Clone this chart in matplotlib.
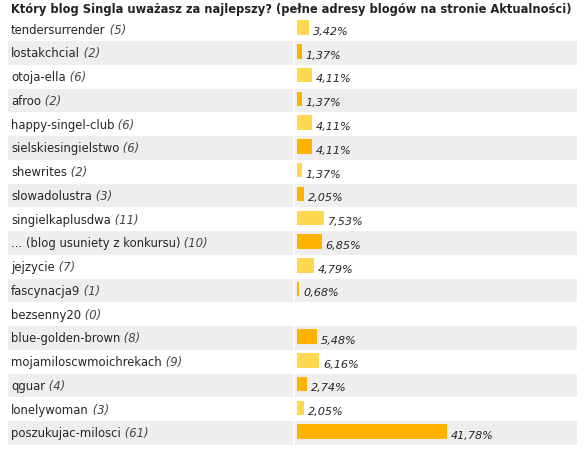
import matplotlib
matplotlib.use("Agg")
import matplotlib.pyplot as plt
from matplotlib.transforms import blended_transform_factory

title = "Który blog Singla uważasz za najlepszy? (pełne adresy blogów na stronie Aktualności)"
names = ["tendersurrender", "lostakchcial", "otoja-ella", "afroo", "happy-singel-club",
         "sielskiesingielstwo", "shewrites", "slowadolustra", "singielkaplusdwa",
         "... (blog usuniety z konkursu)", "jejzycie", "fascynacja9", "bezsenny20",
         "blue-golden-brown", "mojamiloscwmoichrekach", "qguar", "lonelywoman",
         "poszukujac-milosci"]
votes = [5, 2, 6, 2, 6, 6, 2, 3, 11, 10, 7, 1, 0, 8, 9, 4, 3, 61]
percents = [3.42, 1.37, 4.11, 1.37, 4.11, 4.11, 1.37, 2.05, 7.53, 6.85, 4.79, 0.68,
            0.0, 5.48, 6.16, 2.74, 2.05, 41.78]

W, H = 586, 449
fig = plt.figure(figsize=(W / 100, H / 100), dpi=100)
ax = fig.add_axes([0, 0, 1, 1])
ax.set_axis_off()

px_per_pct = 3.59
x0 = 297
row_h = 23.76
row0 = 29.1
ax.set_xlim(-x0 / px_per_pct, (W - x0) / px_per_pct)
ax.set_ylim((H - row0) / row_h, -row0 / row_h)

light = "#FFD84F"
dark = "#FFB300"
n = len(names)
for i in range(n):
    if i % 2 == 1:
        ax.axhspan(i - 0.5, i + 0.5, xmin=8 / W, xmax=577 / W, color="#EEEEEE", lw=0, zorder=0)
# column separator
ax.axvline((294 - x0) / px_per_pct, color="white", lw=1.2, zorder=1)

ypos = [i - 0.06 for i in range(n)]
colors = [light if i % 2 == 0 else dark for i in range(n)]
ax.barh(ypos, percents, height=14.5 / row_h, left=0, color=colors, lw=0, zorder=2)

trans = blended_transform_factory(fig.transFigure, ax.transData)
fs = 8.35
for i, (nm, v) in enumerate(zip(names, votes)):
    t = ax.text(11 / W, i + 0.04, nm, transform=trans, fontsize=fs, color="#262626",
                va="center", ha="left", family="DejaVu Sans")
    ax.annotate(" (%d)" % v, xy=(1, 0), xycoords=t, va="bottom", ha="left",
                fontsize=fs, style="italic", color="#444444", family="DejaVu Sans")
    if v > 0:
        ax.text(percents[i] + 4 / px_per_pct, i + 0.12, ("%.2f%%" % percents[i]).replace(".", ","),
                fontsize=8.1, style="italic", color="#262626", va="center", ha="left",
                family="DejaVu Sans")

fig.text(11 / W, 1 - 10 / H, title, fontsize=8.3, fontweight="bold", color="#222222",
         va="center", ha="left", family="DejaVu Sans")

fig.savefig("out.png", dpi=100, facecolor="white")
